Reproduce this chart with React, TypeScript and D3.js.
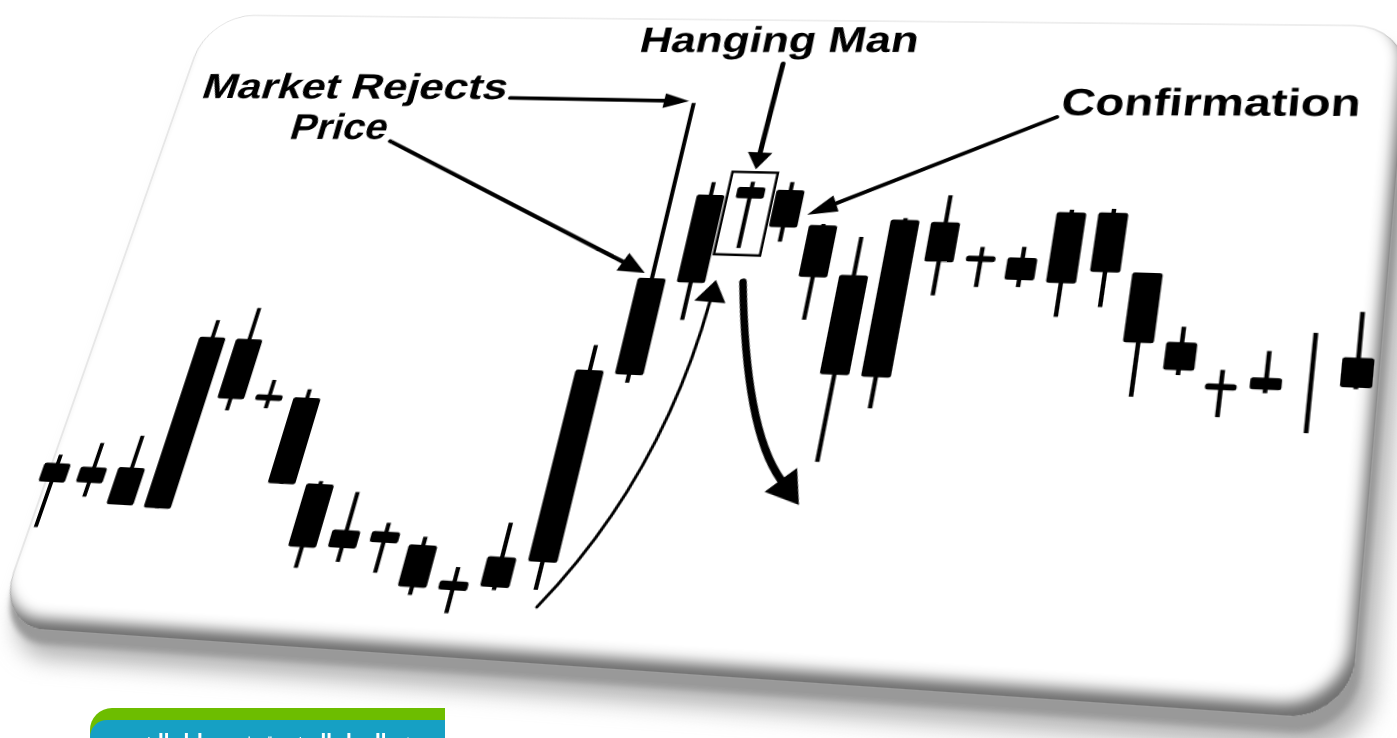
import React from 'react';
import * as d3 from 'd3';

// ---------- data (price units on the card's own, un-tilted scale) ----------
const sessions = d3.range(1, 33);
const opens = [21.4, 21.6, 18.6, 18.4, 44.8, 36.3, 36.1, 23.3, 16.8, 16.9, 15.3, 10.5, 10.0, 13.9, 41.7, 56.2,
  69.9, 71.4, 65.9, 58.2, 42.9, 66.9, 61.8, 61.7, 58.0, 69.1, 60.0, 49.8, 44.0, 45.1, 44.8, 44.2];
const closes = [24.3, 24.0, 24.2, 44.9, 35.4, 35.4, 23.0, 14.0, 14.2, 15.3, 9.3, 9.2, 14.3, 42.2, 56.7, 70.3,
  71.7, 65.4, 57.7, 43.0, 67.1, 60.7, 60.9, 58.3, 69.0, 59.9, 49.5, 45.7, 43.1, 43.4, 44.8, 48.5];
const highs = [25.6, 27.7, 29.1, 47.6, 49.8, 38.6, 37.4, 23.7, 22.4, 18.2, 16.5, 12.5, 19.2, 46.0, 85.5, 72.4,
  72.6, 72.7, 66.1, 64.2, 67.4, 71.2, 63.2, 63.4, 69.4, 69.7, 60.0, 52.1, 46.0, 49.0, 51.9, 55.2];
const lows = [14.6, 19.5, 18.6, 18.4, 33.6, 34.2, 23.0, 11.0, 12.2, 11.0, 8.2, 6.0, 9.6, 10.0, 40.5, 50.4,
  61.9, 63.1, 51.1, 30.2, 38.3, 55.5, 57.0, 57.2, 52.9, 54.6, 41.6, 45.0, 39.2, 42.9, 37.5, 44.0];

const REJECT_IDX = 14;   // long upper wick
const HANGING_IDX = 16;  // hanging man
const CONFIRM_IDX = 17;  // confirmation candle

const labels = ['Market Rejects', 'Price', 'Hanging Man', 'Confirmation'];
const bannerText = 'نموذج الرجل المشنوق في تحليل الشموع';
const sideText = 'الرئيسية';

// ---------- layout ----------
const VW = 1397, VH = 738;
const W = 1200, H = 640;
const QUAD: [number, number][] = [[209, 15], [1409, 26], [1350, 720], [-5, 626]];

function squareToQuad(q: [number, number][]) {
  const [[x0, y0], [x1, y1], [x2, y2], [x3, y3]] = q;
  const dx1 = x1 - x2, dx2 = x3 - x2, dx3 = x0 - x1 + x2 - x3;
  const dy1 = y1 - y2, dy2 = y3 - y2, dy3 = y0 - y1 + y2 - y3;
  const den = dx1 * dy2 - dx2 * dy1;
  const g = (dx3 * dy2 - dx2 * dy3) / den;
  const h = (dx1 * dy3 - dx3 * dy1) / den;
  return {
    a: (x1 - x0 + g * x1) / W, b: (x3 - x0 + h * x3) / H, c: x0,
    d: (y1 - y0 + g * y1) / W, e: (y3 - y0 + h * y3) / H, f: y0,
    g: g / W, h: h / H,
  };
}
const M = squareToQuad(QUAD);
const cssMatrix = `matrix3d(${M.a},${M.d},0,${M.g},${M.b},${M.e},0,${M.h},0,0,1,0,${M.c},${M.f},0,1)`;

function toFlat(sx: number, sy: number): [number, number] {
  const a11 = M.a - M.g * sx, a12 = M.b - M.h * sx, r1 = sx - M.c;
  const a21 = M.d - M.g * sy, a22 = M.e - M.h * sy, r2 = sy - M.f;
  const det = a11 * a22 - a12 * a21;
  return [(r1 * a22 - a12 * r2) / det, (a11 * r2 - r1 * a21) / det];
}

const x = d3.scalePoint<number>().domain(sessions).range([0.005 * W, 0.9846 * W]);
const y = d3.scaleLinear().domain([0, 100]).range([H, 0]);
const BW = 27;

type P = [number, number];
function arrowHead(tip: P, from: P, L: number, w: number) {
  const dx = tip[0] - from[0], dy = tip[1] - from[1];
  const len = Math.hypot(dx, dy) || 1;
  const ux = dx / len, uy = dy / len;
  const base: P = [tip[0] - ux * L, tip[1] - uy * L];
  const pts = [tip, [base[0] - uy * w, base[1] + ux * w], [base[0] + uy * w, base[1] - ux * w]];
  return { base, d: 'M' + pts.map(p => p.join(',')).join('L') + 'Z' };
}

function StraightArrow({ from, tip, L, w, sw }: { from: P; tip: P; L: number; w: number; sw: number }) {
  const hd = arrowHead(tip, from, L, w);
  return (
    <g>
      <line x1={from[0]} y1={from[1]} x2={hd.base[0]} y2={hd.base[1]} stroke="#000" strokeWidth={sw} strokeLinecap="round" />
      <path d={hd.d} fill="#000" />
    </g>
  );
}

function CurveArrow({ from, ctrl, tip, L, w, sw }: { from: P; ctrl: P; tip: P; L: number; w: number; sw: number }) {
  const hd = arrowHead(tip, ctrl, L, w);
  const path = d3.path();
  path.moveTo(from[0], from[1]);
  path.quadraticCurveTo(ctrl[0], ctrl[1], hd.base[0], hd.base[1]);
  return (
    <g>
      <path d={path.toString()} fill="none" stroke="#000" strokeWidth={sw} strokeLinecap="round" />
      <path d={hd.d} fill="#000" />
    </g>
  );
}

function Label({ text, from, to }: { text: string; from: P; to: P }) {
  const f0 = toFlat(from[0], from[1]);
  const f1 = toFlat(to[0], to[1]);
  const len = Math.hypot(f1[0] - f0[0], f1[1] - f0[1]);
  const ang = (Math.atan2(f1[1] - f0[1], f1[0] - f0[0]) * 180) / Math.PI;
  return (
    <text transform={`translate(${f0[0]},${f0[1]}) rotate(${ang})`} fontFamily="'Liberation Sans', Arial, sans-serif"
      fontWeight="bold" fontSize={40} fill="#000" textLength={len} lengthAdjust="spacingAndGlyphs">
      {text}
    </text>
  );
}

export default function App() {
  const cxR = x(sessions[REJECT_IDX])!;
  const cxH = x(sessions[HANGING_IDX])!;
  const cxC = x(sessions[CONFIRM_IDX])!;
  const boxTop = y(highs[HANGING_IDX]) - 10;
  const boxBot = y(lows[HANGING_IDX]) + 7;
  const boxHalf = 22;

  return (
    <div style={{ position: 'fixed', left: 0, top: 0, width: VW, height: VH, overflow: 'hidden', background: '#fff' }}>
      <svg width={W + 100} height={H + 100}
        style={{ position: 'absolute', left: 0, top: 0, overflow: 'visible', transformOrigin: '0 0', transform: cssMatrix }}>
        <defs>
          <filter id="softShadow" x="-10%" y="-10%" width="130%" height="130%">
            <feGaussianBlur stdDeviation="10" />
          </filter>
          <filter id="rimBlur" x="-5%" y="-5%" width="110%" height="115%">
            <feGaussianBlur stdDeviation="2.5" />
          </filter>
          <filter id="inner" x="-5%" y="-5%" width="110%" height="110%">
            <feOffset in="SourceAlpha" dx="-7" dy="-12" result="off" />
            <feGaussianBlur in="off" stdDeviation="6" result="blur" />
            <feComposite in="SourceAlpha" in2="blur" operator="out" result="edge" />
            <feFlood floodColor="#707070" result="col" />
            <feComposite in="col" in2="edge" operator="in" result="shadow" />
            <feMerge>
              <feMergeNode in="SourceGraphic" />
              <feMergeNode in="shadow" />
            </feMerge>
          </filter>
        </defs>

        {/* card */}
        <rect x={16} y={26} width={W} height={H} rx={50} fill="#b4b4b4" filter="url(#softShadow)" />
        <rect x={5} y={13} width={W} height={H} rx={50} fill="#999" filter="url(#rimBlur)" />
        <rect x={0} y={0} width={W} height={H} rx={50} fill="#fff" stroke="#dcdcdc" strokeWidth={1} filter="url(#inner)" />

        {/* candles */}
        {sessions.map((s, i) => {
          const cx = x(s)!;
          const top = y(Math.max(opens[i], closes[i]));
          const bot = y(Math.min(opens[i], closes[i]));
          return (
            <g key={s}>
              <line x1={cx} x2={cx} y1={y(highs[i])} y2={y(lows[i])} stroke="#000" strokeWidth={4} />
              {bot - top > 0 && <rect x={cx - BW / 2} y={top} width={BW} height={bot - top} rx={2.5} fill="#000" />}
            </g>
          );
        })}

        {/* hanging man box */}
        <rect x={cxH - boxHalf} y={boxTop} width={boxHalf * 2} height={boxBot - boxTop} fill="none" stroke="#000" strokeWidth={2.5} />

        {/* labels */}
        <Label text={labels[0]} from={[200, 98]} to={[505, 99]} />
        <Label text={labels[1]} from={[288, 139]} to={[385, 139]} />
        <Label text={labels[2]} from={[638, 52]} to={[917, 52]} />
        <Label text={labels[3]} from={[1060, 115]} to={[1360, 116]} />

        {/* arrows */}
        <StraightArrow from={toFlat(510, 98)} tip={[cxR - 5, y(highs[REJECT_IDX]) - 2]} L={25} w={8} sw={4} />
        <StraightArrow from={toFlat(390, 141)} tip={[cxR - BW * 0.3, y(closes[REJECT_IDX]) - 5]} L={26} w={10} sw={4} />
        <StraightArrow from={toFlat(783, 64)} tip={[cxH, boxTop - 3]} L={18} w={12} sw={5} />
        <StraightArrow from={toFlat(1057, 117)} tip={[cxC + BW / 2 + 7, y(67.5)]} L={28} w={9} sw={4} />
        <CurveArrow from={toFlat(537, 607)} ctrl={toFlat(660, 480)} tip={toFlat(716, 280)} L={22} w={15} sw={3} />
        <CurveArrow from={toFlat(743, 282)} ctrl={toFlat(745, 430)} tip={toFlat(799, 505)} L={30} w={17} sw={7} />
      </svg>

      {/* banner, untilted */}
      <svg width={VW} height={VH} style={{ position: 'absolute', left: 0, top: 0 }}>
        <path d="M445,708 L112,708 A22,22 0 0 0 90,730 L90,760 L445,760 Z" fill="#6dbd00" />
        <path d="M445,720 L107,720 A17,17 0 0 0 90,737 L90,760 L445,760 Z" fill="#16a0c4" />
        <text x={440} y={750} direction="rtl" textAnchor="start" fill="#fff" fontWeight="bold" fontSize={22}
          textLength={332} lengthAdjust="spacingAndGlyphs"
          fontFamily="'DejaVu Sans', 'Noto Sans', sans-serif">{bannerText}</text>
        <text x={34} y={747} direction="rtl" textAnchor="start" fill="#444" fontSize={12}
          textLength={30} lengthAdjust="spacingAndGlyphs"
          fontFamily="'DejaVu Sans', sans-serif">{sideText}</text>
      </svg>
    </div>
  );
}
